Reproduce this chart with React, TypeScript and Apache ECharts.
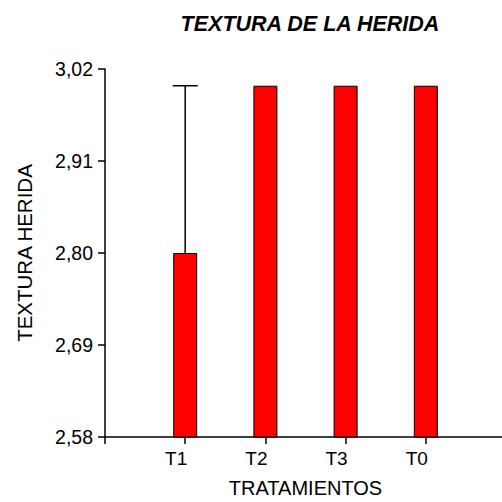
import React, { useEffect, useRef } from "react";
import * as echarts from "echarts";

const categories = ["T1", "T2", "T3", "T0"];
const means = [2.8, 3.0, 3.0, 3.0];
const errorsUp = [0.2, 0, 0, 0];
const yTicks = [2.58, 2.69, 2.8, 2.91, 3.02];
const yMin = 2.58;
const yMax = 3.02;

const FONT = "Liberation Sans, Arial, sans-serif";

export default function App() {
  const ref = useRef<HTMLDivElement>(null);
  useEffect(() => {
    if (!ref.current) return;
    const chart = echarts.init(ref.current, undefined, { renderer: "svg" });
    const axisCats = ["", ...categories, ""];
    const barData: any[] = ["-", ...means, "-"];
    const errData = categories
      .map((c, i) => [i + 1, means[i], means[i] + errorsUp[i], errorsUp[i]])
      .filter((d) => d[3] > 0);
    chart.setOption({
      animation: false,
      backgroundColor: "#ffffff",
      title: {
        text: "TEXTURA DE LA HERIDA",
        left: 305,
        top: 8,
        textAlign: "center",
        textStyle: {
          fontFamily: FONT,
          fontSize: 21.5,
          fontWeight: "bold",
          fontStyle: "italic",
          color: "#000",
        },
      },
      grid: {
        left: 105,
        top: 69,
        bottom: 65,
        right: -4,
        outerBoundsMode: "none",
        containLabel: false,
      },
      xAxis: {
        type: "category",
        data: axisCats,
        boundaryGap: false,
        name: "TRATAMIENTOS",
        nameLocation: "middle",
        nameGap: 41,
        nameTextStyle: { fontFamily: FONT, fontSize: 20, color: "#000", verticalAlign: "top" },
        axisLine: { show: true, lineStyle: { color: "#000", width: 1.5 } },
        axisTick: { show: true, length: 7, alignWithLabel: true, interval: 0, lineStyle: { color: "#000", width: 1.5 } },
        axisLabel: {
          interval: 0,
          margin: 12,
          fontFamily: FONT,
          fontSize: 19,
          color: "#000",
          padding: [0, 18, 0, 0],
        },
        splitLine: { show: false },
      },
      yAxis: {
        type: "value",
        min: yMin,
        max: yMax,
        name: "TEXTURA HERIDA",
        nameLocation: "middle",
        nameGap: 70,
        nameRotate: 90,
        nameTextStyle: { fontFamily: FONT, fontSize: 20.5, color: "#000" },
        axisLine: { show: true, lineStyle: { color: "#000", width: 1.5 } },
        axisTick: { show: true, length: 7, customValues: yTicks, lineStyle: { color: "#000", width: 1.5 } },
        axisLabel: {
          customValues: yTicks,
          margin: 12,
          fontFamily: FONT,
          fontSize: 19.5,
          color: "#000",
          formatter: (v: number) => v.toFixed(2).replace(".", ","),
        },
        splitLine: { show: false },
      },
      series: [
        {
          type: "bar",
          data: barData,
          barWidth: 24,
          itemStyle: { color: "#ff0000", borderColor: "#000", borderWidth: 1 },
          z: 2,
        },
        {
          type: "custom",
          data: errData,
          z: 3,
          renderItem: (params: any, api: any) => {
            const idx = api.value(0);
            const lo = api.coord([idx, api.value(1)]);
            const hi = api.coord([idx, api.value(2)]);
            const half = 12.5;
            const style = { stroke: "#000", lineWidth: 1.5 };
            return {
              type: "group",
              children: [
                { type: "line", shape: { x1: lo[0], y1: lo[1], x2: hi[0], y2: hi[1] }, style },
                { type: "line", shape: { x1: hi[0] - half, y1: hi[1], x2: hi[0] + half, y2: hi[1] }, style },
              ],
            };
          },
        },
      ],
    });
    return () => chart.dispose();
  }, []);
  return (
    <div
      ref={ref}
      style={{ position: "absolute", left: 0, top: 0, width: 502, height: 502 }}
    />
  );
}
